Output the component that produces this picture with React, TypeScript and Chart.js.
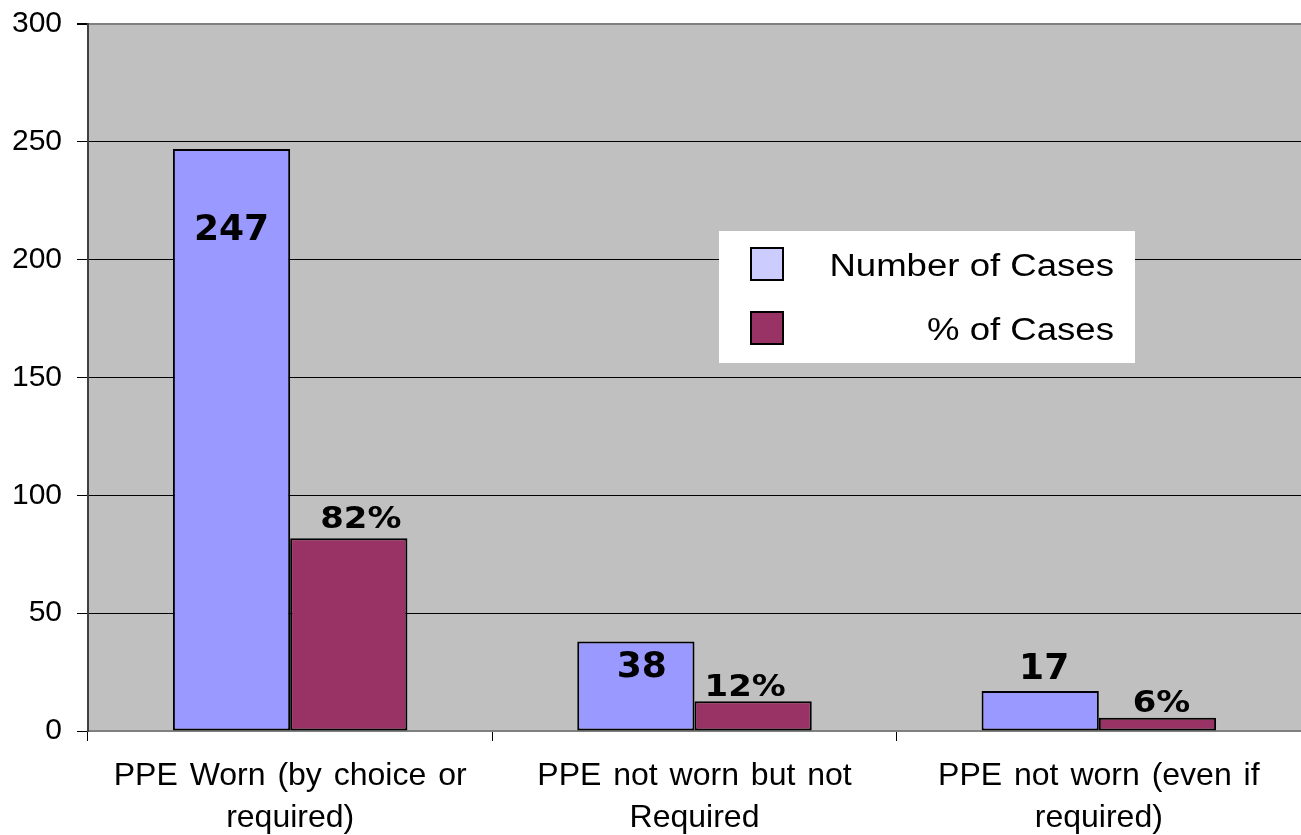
import React, { useEffect, useRef } from "react";
import { Chart, registerables } from "chart.js";

Chart.register(...registerables);

const categories: string[][] = [
  ["PPE Worn (by choice or", "required)"],
  ["PPE not worn but not", "Required"],
  ["PPE not worn (even if", "required)"],
];
const caseCounts = [247, 38, 17];
const casePercents = [81.8, 12.6, 5.6];
const caseCountLabels = ["247", "38", "17"];
const casePercentLabels = ["82%", "12%", "6%"];
const seriesNames = ["Number of Cases", "% of Cases"];
const yTicks = [0, 50, 100, 150, 200, 250, 300];

const BLUE = "#9999FF";
const BLUE_LEGEND = "#CCCCFF";
const MAROON = "#993366";
const PLOT_BG = "#C0C0C0";

// label placement tweaks (style only): [dx, dy] relative to bar centre x / bar top y
const countLabelOffsets = [[0, 78], [6, 23], [4, -25]];
const pctLabelOffsets = [[12, -21], [-8, -16], [4, -17]];

const bgPlugin = {
  id: "plotBg",
  beforeDraw(chart: any) {
    const { ctx, chartArea } = chart;
    ctx.save();
    ctx.fillStyle = PLOT_BG;
    ctx.fillRect(chartArea.left, chartArea.top, chartArea.right - chartArea.left, chartArea.bottom - chartArea.top);
    ctx.restore();
    // wider word spacing for category labels
    (ctx as any).wordSpacing = "3px";
  },
};

const labelPlugin = {
  id: "barLabels",
  afterDatasetsDraw(chart: any) {
    const { ctx } = chart;
    const sets = [
      { meta: chart.getDatasetMeta(0), labels: caseCountLabels, offs: countLabelOffsets, size: 35, sx: 1.03 },
      { meta: chart.getDatasetMeta(1), labels: casePercentLabels, offs: pctLabelOffsets, size: 30, sx: 1.13 },
    ];
    ctx.save();
    (ctx as any).wordSpacing = "0px";
    ctx.fillStyle = "#000";
    ctx.textAlign = "center";
    ctx.textBaseline = "alphabetic";
    for (const s of sets) {
      ctx.font = `bold ${s.size}px "DejaVu Sans"`;
      s.meta.data.forEach((el: any, i: number) => {
        const cx = el.x + s.offs[i][0];
        const cy = el.y + s.offs[i][1];
        ctx.save();
        ctx.translate(cx, cy + 0.364 * s.size);
        ctx.scale(s.sx, 1);
        ctx.fillText(s.labels[i], 0, 0);
        ctx.restore();
      });
    }
    ctx.restore();
  },
};

const legendPlugin = {
  id: "boxLegend",
  afterDraw(chart: any) {
    const { ctx } = chart;
    const box = { x: 719, y: 231, w: 416, h: 132 };
    ctx.save();
    (ctx as any).wordSpacing = "0px";
    ctx.fillStyle = "#FFFFFF";
    ctx.fillRect(box.x, box.y, box.w, box.h);
    const rows = [
      { color: BLUE_LEGEND, text: seriesNames[0], cy: 264 },
      { color: MAROON, text: seriesNames[1], cy: 328 },
    ];
    const size = 31;
    ctx.font = `${size}px "Liberation Sans", Arial, sans-serif`;
    ctx.textBaseline = "alphabetic";
    ctx.textAlign = "right";
    for (const r of rows) {
      ctx.fillStyle = r.color;
      ctx.fillRect(751, r.cy - 16, 32, 32);
      ctx.strokeStyle = "#000";
      ctx.lineWidth = 2;
      ctx.strokeRect(751, r.cy - 16, 32, 32);
      ctx.fillStyle = "#000";
      ctx.save();
      ctx.translate(1114, r.cy + 1 + 0.358 * size);
      ctx.scale(1.18, 1);
      ctx.fillText(r.text, 0, 0);
      ctx.restore();
    }
    ctx.restore();
  },
};

export default function App() {
  const ref = useRef<HTMLCanvasElement | null>(null);
  useEffect(() => {
    document.body.style.margin = "0";
    const canvas = ref.current!;
    const chart = new Chart(canvas, {
      type: "bar",
      data: {
        labels: categories,
        datasets: [
          {
            label: seriesNames[0],
            data: caseCounts,
            backgroundColor: BLUE,
            borderColor: "#000",
            borderWidth: 2,
            borderSkipped: false,
            categoryPercentage: 0.58,
            barPercentage: 1.0,
          },
          {
            label: seriesNames[1],
            data: casePercents,
            backgroundColor: MAROON,
            borderColor: "#000",
            borderWidth: 2,
            borderSkipped: false,
            categoryPercentage: 0.58,
            barPercentage: 1.0,
          },
        ],
      },
      options: {
        responsive: false,
        devicePixelRatio: 1,
        animation: false,
        layout: { padding: { top: 24, left: 0, right: 0, bottom: 0 } },
        plugins: {
          legend: { display: false },
          tooltip: { enabled: false },
          title: { display: false },
        },
        scales: {
          x: {
            offset: true,
            grid: {
              offset: true,
              drawOnChartArea: false,
              drawTicks: true,
              tickLength: 10,
              color: "#000",
            },
            border: { display: true, color: "#808080", width: 2 },
            ticks: {
              color: "#000",
              font: { family: "'Liberation Sans', Arial, sans-serif", size: 32, lineHeight: 1.31 },
              padding: 14,
              maxRotation: 0,
              autoSkip: false,
            },
            afterFit: (s: any) => {
              s.height = 104;
              s.paddingLeft = 0;
              s.paddingRight = 0;
              s.paddingTop = 0;
              s.paddingBottom = 0;
            },
          },
          y: {
            min: 0,
            max: 300,
            afterBuildTicks: (s: any) => {
              s.ticks = yTicks.map((v) => ({ value: v }));
            },
            grid: {
              color: (c: any) => (c.tick && c.tick.value === 300 ? "#808080" : "#000"),
              lineWidth: (c: any) => (c.tick && c.tick.value === 300 ? 2 : 1),
              tickLength: 11,
              tickColor: "#000",
            },
            border: { display: true, color: "#404040", width: 2 },
            ticks: {
              color: "#000",
              font: { family: "'Liberation Sans', Arial, sans-serif", size: 30 },
              padding: 15,
            },
            afterFit: (s: any) => {
              s.width = 88;
              s.paddingTop = 0;
              s.paddingBottom = 0;
              s.paddingLeft = 0;
              s.paddingRight = 0;
            },
          },
        },
      },
      plugins: [bgPlugin, labelPlugin, legendPlugin],
    });
    return () => chart.destroy();
  }, []);
  return (
    <div style={{ position: "absolute", left: 0, top: 0, width: 1301, height: 835, background: "#fff" }}>
      <canvas ref={ref} width={1301} height={835} style={{ display: "block" }} />
    </div>
  );
}
